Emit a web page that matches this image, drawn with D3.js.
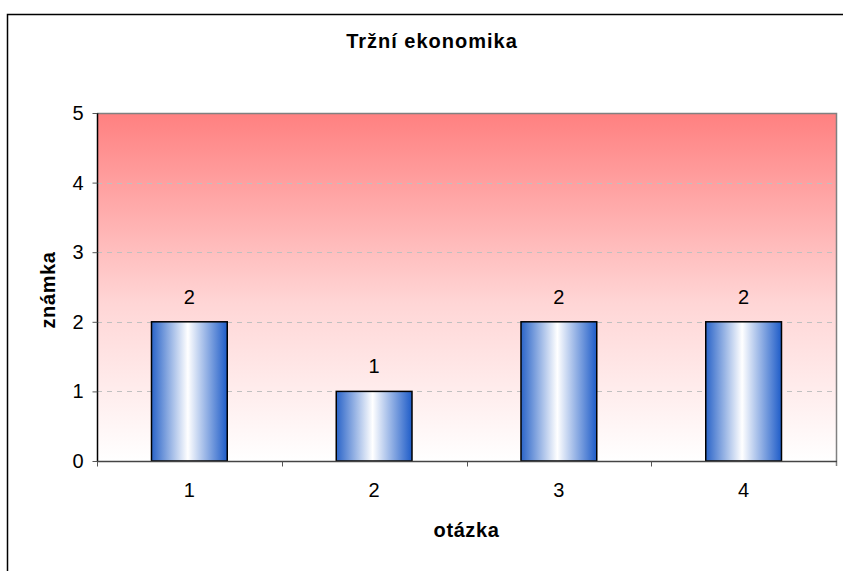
<!DOCTYPE html>
<html>
<head>
<meta charset="utf-8">
<script src="https://cdn.jsdelivr.net/npm/d3@7"></script>
<style>
  body { margin: 0; background: #fff; }
  svg { display: block; font-family: "Liberation Sans", Arial, sans-serif; }
</style>
</head>
<body>
<div id="chart"></div>
<script>
// Data.
var categories = [ '1', '2', '3', '4' ];
var values = [ 2, 1, 2, 2 ];
var y_ticks = [ 0, 1, 2, 3, 4, 5 ];
var title = 'Tržní ekonomika';
var x_title = 'otázka';
var y_title = 'známka';

var width = 843, height = 571;
var plot = { left: 97, right: 836, top: 113, bottom: 461 };
var num_size = 20, title_size = 20;

var svg = d3.select( '#chart' ).append( 'svg' )
  .attr( 'width', width )
  .attr( 'height', height );

var defs = svg.append( 'defs' );

// Red-to-white background of the plot area.
var bg = defs.append( 'linearGradient' )
  .attr( 'id', 'bg_grad' )
  .attr( 'x1', 0 ).attr( 'y1', 0 ).attr( 'x2', 0 ).attr( 'y2', 1 );
bg.append( 'stop' ).attr( 'offset', '0%' ).attr( 'stop-color', '#ff8080' );
bg.append( 'stop' ).attr( 'offset', '55%' ).attr( 'stop-color', '#ffd6d6' );
bg.append( 'stop' ).attr( 'offset', '100%' ).attr( 'stop-color', '#ffffff' );

// Blue-white-blue cylinder look of the bars.
var bar_grad = defs.append( 'linearGradient' )
  .attr( 'id', 'bar_grad' )
  .attr( 'x1', 0 ).attr( 'y1', 0 ).attr( 'x2', 1 ).attr( 'y2', 0 );
bar_grad.append( 'stop' ).attr( 'offset', '0%' ).attr( 'stop-color', '#2a64c8' );
bar_grad.append( 'stop' ).attr( 'offset', '48%' ).attr( 'stop-color', '#ffffff' );
bar_grad.append( 'stop' ).attr( 'offset', '100%' ).attr( 'stop-color', '#1e5cc8' );

// Outer chart frame (only left and top edges show in the picture).
svg.append( 'rect' )
  .attr( 'x', 7.5 ).attr( 'y', 14.5 )
  .attr( 'width', width ).attr( 'height', height )
  .attr( 'fill', 'none' )
  .attr( 'stroke', '#000' )
  .attr( 'stroke-width', 1.5 );

var x_scale = d3.scaleBand()
  .domain( categories )
  .range( [ plot.left, plot.right ] )
  .padding( 0 );

var y_scale = d3.scaleLinear()
  .domain( [ 0, 5 ] )
  .range( [ plot.bottom, plot.top ] );

// Plot area background.
svg.append( 'rect' )
  .attr( 'x', plot.left ).attr( 'y', plot.top )
  .attr( 'width', plot.right - plot.left )
  .attr( 'height', plot.bottom - plot.top )
  .attr( 'fill', 'url(#bg_grad)' );

// Dashed gridlines.
svg.append( 'g' )
  .selectAll( 'line' )
  .data( y_ticks.filter( function( t ){ return t > 0 && t < 5; } ) )
  .enter().append( 'line' )
    .attr( 'x1', plot.left ).attr( 'x2', plot.right )
    .attr( 'y1', function( d ){ return Math.round( y_scale( d ) ) + 0.5; } )
    .attr( 'y2', function( d ){ return Math.round( y_scale( d ) ) + 0.5; } )
    .attr( 'stroke', '#c0c0c0' )
    .attr( 'stroke-dasharray', '5,5' );

// Top and right border of the plot.
svg.append( 'path' )
  .attr( 'd', 'M' + plot.left + ',' + ( plot.top + 0.5 ) + 'H' + ( plot.right + 0.5 ) + 'V' + ( plot.bottom + 5 ) )
  .attr( 'fill', 'none' )
  .attr( 'stroke', '#808080' )
  .attr( 'stroke-width', 1.5 );

// Bars.
var bar_width = x_scale.bandwidth() * 0.41;
svg.append( 'g' )
  .selectAll( 'rect' )
  .data( values )
  .enter().append( 'rect' )
    .attr( 'x', function( d, i ){ return x_scale( categories[i] ) + ( x_scale.bandwidth() - bar_width ) / 2; } )
    .attr( 'y', function( d ){ return y_scale( d ); } )
    .attr( 'width', bar_width )
    .attr( 'height', function( d ){ return y_scale( 0 ) - y_scale( d ); } )
    .attr( 'fill', 'url(#bar_grad)' )
    .attr( 'stroke', '#000' )
    .attr( 'stroke-width', 1.5 );

// Value labels above bars.
svg.append( 'g' )
  .selectAll( 'text' )
  .data( values )
  .enter().append( 'text' )
    .attr( 'x', function( d, i ){ return x_scale( categories[i] ) + x_scale.bandwidth() / 2; } )
    .attr( 'y', function( d ){ return y_scale( d ) - 18; } )
    .attr( 'text-anchor', 'middle' )
    .attr( 'font-size', num_size )
    .attr( 'fill', '#000' )
    .text( function( d ){ return d; } );

// Y axis.
var y_axis = svg.append( 'g' )
  .attr( 'transform', 'translate(' + ( plot.left + 0.5 ) + ',0)' )
  .call( d3.axisLeft( y_scale ).tickValues( y_ticks ).tickFormat( d3.format( 'd' ) ).tickSize( 5 ).tickPadding( 9 ) );
y_axis.select( '.domain' ).attr( 'stroke', '#000' ).attr( 'stroke-width', 1.5 ).attr( 'd', 'M0,' + plot.top + 'V' + plot.bottom );
y_axis.selectAll( '.tick line' ).attr( 'stroke', '#555' );
y_axis.selectAll( 'text' ).attr( 'font-size', num_size ).attr( 'font-family', '"Liberation Sans", Arial, sans-serif' ).attr( 'fill', '#000' );

// X axis: ticks at the category boundaries, labels at the centres.
var x_axis = svg.append( 'g' )
  .attr( 'transform', 'translate(0,' + ( plot.bottom + 0.5 ) + ')' );
x_axis.append( 'line' )
  .attr( 'x1', plot.left ).attr( 'x2', plot.right + 1 )
  .attr( 'stroke', '#444' )
  .attr( 'stroke-width', 1.5 );
x_axis.selectAll( 'line.tick' )
  .data( categories )
  .enter().append( 'line' )
    .attr( 'class', 'tick' )
    .attr( 'x1', function( d ){ return Math.round( x_scale( d ) ) + 0.5; } )
    .attr( 'x2', function( d ){ return Math.round( x_scale( d ) ) + 0.5; } )
    .attr( 'y1', 0 ).attr( 'y2', 5 )
    .attr( 'stroke', '#555' );
x_axis.selectAll( 'text' )
  .data( categories )
  .enter().append( 'text' )
    .attr( 'x', function( d ){ return x_scale( d ) + x_scale.bandwidth() / 2; } )
    .attr( 'y', 35.5 )
    .attr( 'text-anchor', 'middle' )
    .attr( 'font-size', num_size )
    .text( function( d ){ return d; } );

// Titles.
svg.append( 'text' )
  .attr( 'x', 432 ).attr( 'y', 48 )
  .attr( 'text-anchor', 'middle' )
  .attr( 'font-size', title_size )
  .attr( 'font-weight', 'bold' )
  .attr( 'letter-spacing', 1 )
  .text( title );

svg.append( 'text' )
  .attr( 'x', ( plot.left + plot.right ) / 2 ).attr( 'y', 537 )
  .attr( 'text-anchor', 'middle' )
  .attr( 'font-size', title_size )
  .attr( 'font-weight', 'bold' )
  .attr( 'letter-spacing', 0.6 )
  .text( x_title );

svg.append( 'g' )
  .attr( 'transform', 'translate(55,' + ( ( plot.top + plot.bottom ) / 2 + 3 ) + ')' )
  .append( 'text' )
    .attr( 'transform', 'rotate(-90)' )
    .attr( 'text-anchor', 'middle' )
    .attr( 'font-size', title_size )
    .attr( 'font-weight', 'bold' )
    .attr( 'letter-spacing', 0.6 )
    .text( y_title );
</script>
</body>
</html>
